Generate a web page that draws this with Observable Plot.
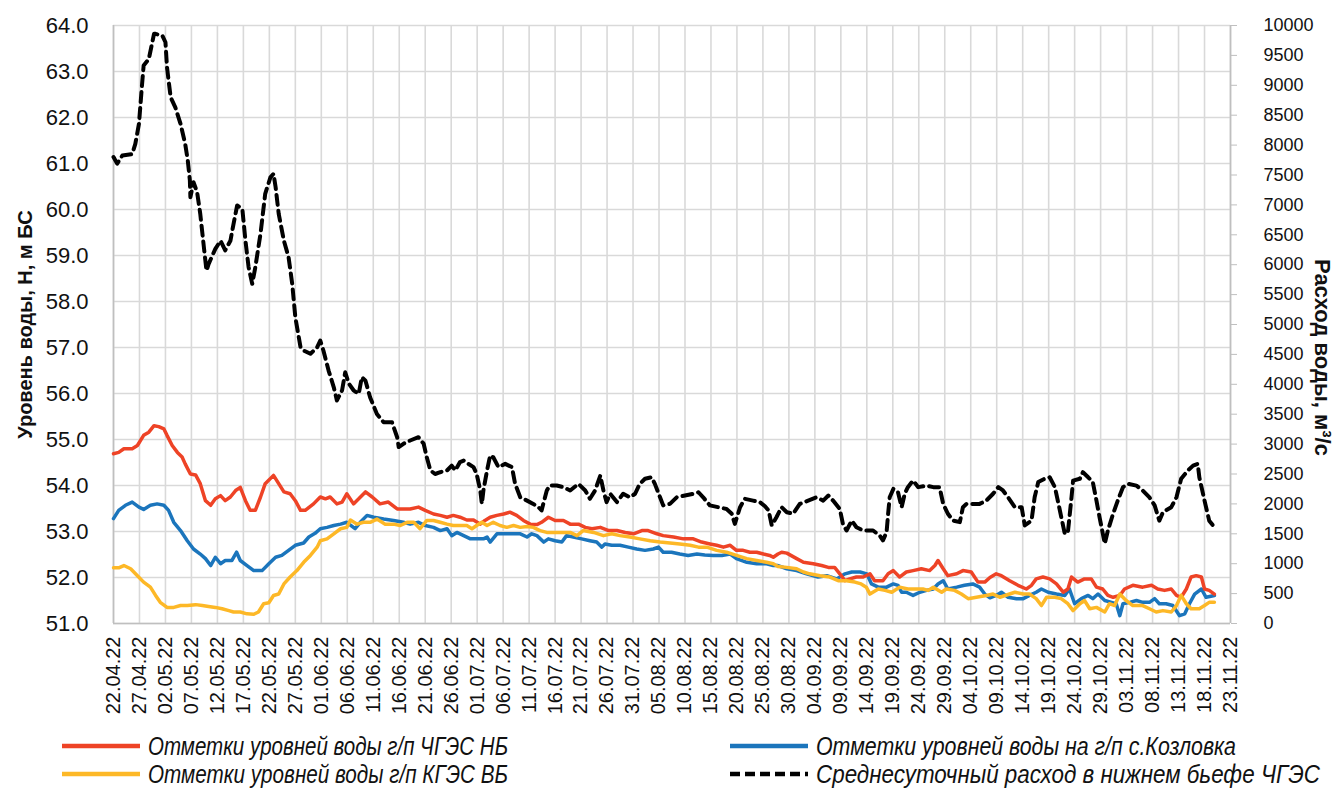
<!DOCTYPE html>
<html><head><meta charset="utf-8">
<script src="https://cdn.jsdelivr.net/npm/d3@7"></script>
<script src="https://cdn.jsdelivr.net/npm/@observablehq/plot@0.6"></script>
<style>
body{margin:0;background:#fff;font-family:"Liberation Sans",Arial,sans-serif;}
#chart svg{display:block;}
#legend{position:relative;width:1336px;height:68px;font-style:italic;font-size:26px;color:#111;}
.sw{position:absolute;}
.lab{position:absolute;white-space:nowrap;line-height:28px;transform-origin:left center;}
</style></head><body>
<div id="chart"></div>
<div id="legend"></div>
<script>
// ---- data (day offset from 22.04.22, value) ----
const dateLabels = ["22.04.22","27.04.22","02.05.22","07.05.22","12.05.22","17.05.22","22.05.22","27.05.22","01.06.22","06.06.22","11.06.22","16.06.22","21.06.22","26.06.22","01.07.22","06.07.22","11.07.22","16.07.22","21.07.22","26.07.22","31.07.22","05.08.22","10.08.22","15.08.22","20.08.22","25.08.22","30.08.22","04.09.22","09.09.22","14.09.22","19.09.22","24.09.22","29.09.22","04.10.22","09.10.22","14.10.22","19.10.22","24.10.22","29.10.22","03.11.22","08.11.22","13.11.22","18.11.22","23.11.22"];
const levelTicks = [51,52,53,54,55,56,57,58,59,60,61,62,63,64];
const flowTicks = [0,500,1000,1500,2000,2500,3000,3500,4000,4500,5000,5500,6000,6500,7000,7500,8000,8500,9000,9500,10000];
const seriesNames = ["Отметки уровней воды г/п ЧГЭС НБ","Отметки уровней воды г/п КГЭС ВБ","Отметки уровней воды на г/п с.Козловка","Среднесуточный расход в нижнем бьефе ЧГЭС"];

const levelNB = [[0,54.69],[1.0,54.72],[2.0,54.80],[3.6,54.80],[4.6,54.87],[5.8,55.09],[6.8,55.16],[7.8,55.30],[8.7,55.28],[9.7,55.23],[10.3,55.09],[11.3,54.87],[12.3,54.72],[13.2,54.62],[13.8,54.47],[14.8,54.25],[15.8,54.23],[16.7,54.04],[17.7,53.67],[18.7,53.57],[19.6,53.71],[20.6,53.78],[21.5,53.67],[22.5,53.75],[23.5,53.89],[24.4,53.96],[25.4,53.67],[26.3,53.46],[27.3,53.46],[28.3,53.75],[29.2,54.04],[30.8,54.22],[31.8,54.04],[32.8,53.86],[34.0,53.82],[35.0,53.67],[36.0,53.46],[36.9,53.46],[38.5,53.60],[39.8,53.75],[40.8,53.71],[41.7,53.75],[43.0,53.60],[44.0,53.64],[44.9,53.82],[46.2,53.60],[47.2,53.71],[48.5,53.86],[49.8,53.75],[51.3,53.60],[52.9,53.64],[54.6,53.49],[55.8,53.49],[57.1,53.49],[58.7,53.53],[60.0,53.46],[61.6,53.38],[62.9,53.35],[64.2,53.31],[65.4,53.35],[66.7,53.31],[68.0,53.25],[69.3,53.25],[70.6,53.16],[71.5,53.24],[72.5,53.31],[73.8,53.35],[75.1,53.38],[76.3,53.42],[77.6,53.35],[78.9,53.24],[80.2,53.16],[81.5,53.15],[82.4,53.20],[83.7,53.31],[85.0,53.24],[86.6,53.24],[87.9,53.16],[89.5,53.16],[90.8,53.09],[92.1,53.06],[93.7,53.09],[95.3,53.02],[96.9,53.02],[98.5,52.98],[100.1,52.95],[101.7,53.02],[102.9,53.02],[104.6,52.95],[105.8,52.91],[107.8,52.88],[109.7,52.84],[111.6,52.84],[113.2,52.77],[114.8,52.73],[116.1,52.70],[117.4,52.66],[118.7,52.70],[119.9,52.59],[121.2,52.59],[122.5,52.55],[123.8,52.55],[125.1,52.51],[126.3,52.48],[127.0,52.44],[127.9,52.51],[128.6,52.55],[129.6,52.53],[131.5,52.41],[132.8,52.33],[134.7,52.30],[136.3,52.26],[137.6,52.22],[138.8,52.22],[139.8,52.08],[140.8,51.93],[141.7,51.97],[143.0,52.01],[144.3,52.01],[145.6,52.08],[146.5,51.93],[148.1,51.93],[149.1,52.08],[150.1,52.15],[151.3,52.01],[152.6,52.12],[153.9,52.15],[155.5,52.19],[157.1,52.15],[158.1,52.26],[158.7,52.37],[159.7,52.19],[160.6,52.04],[162.3,52.08],[163.5,52.15],[165.1,52.12],[166.4,51.90],[167.7,51.90],[168.7,52.00],[169.9,52.08],[170.9,52.04],[172.5,51.93],[174.1,51.83],[175.7,51.75],[176.7,51.83],[177.6,51.97],[178.9,52.01],[180.2,51.97],[181.5,51.86],[182.8,51.68],[183.7,51.75],[184.4,52.01],[185.6,51.90],[186.9,51.97],[188.2,51.97],[189.2,51.79],[190.4,51.75],[191.4,51.61],[192.4,51.57],[193.7,51.61],[194.6,51.75],[196.2,51.83],[198.1,51.79],[199.8,51.83],[201.0,51.75],[202.3,51.72],[203.6,51.75],[204.6,51.61],[205.5,51.57],[206.5,51.75],[207.4,52.01],[208.4,52.04],[209.4,52.01],[210.0,51.75],[210.9,51.72],[211.9,51.64]];

const levelKozlovka = [[0,53.28],[1.0,53.46],[2.3,53.57],[3.6,53.64],[4.9,53.53],[5.8,53.48],[7.1,53.57],[8.4,53.60],[9.7,53.57],[10.6,53.46],[11.6,53.20],[12.9,53.02],[14.2,52.80],[15.4,52.62],[16.7,52.51],[17.7,52.41],[18.7,52.26],[19.6,52.44],[20.6,52.30],[21.5,52.37],[22.8,52.37],[23.7,52.55],[24.4,52.37],[25.7,52.26],[27.0,52.15],[28.6,52.15],[29.9,52.30],[31.2,52.44],[32.4,52.48],[33.7,52.59],[35.0,52.70],[36.6,52.75],[37.6,52.88],[38.8,52.96],[39.8,53.06],[41.1,53.09],[42.4,53.13],[43.7,53.16],[44.9,53.20],[46.5,53.06],[47.5,53.20],[48.8,53.35],[50.1,53.31],[52.0,53.27],[53.9,53.24],[55.8,53.20],[57.1,53.16],[58.7,53.20],[60.0,53.13],[61.6,53.09],[62.9,53.02],[64.2,53.06],[65.1,52.91],[66.1,52.98],[67.4,52.91],[68.7,52.84],[69.9,52.84],[71.2,52.84],[71.9,52.88],[72.5,52.77],[73.8,52.95],[75.1,52.95],[76.7,52.95],[78.3,52.95],[79.6,52.88],[80.5,52.95],[81.5,52.91],[82.8,52.77],[83.7,52.84],[85.0,52.80],[86.3,52.77],[87.2,52.91],[88.5,52.88],[90.1,52.84],[91.7,52.80],[93.0,52.77],[94.0,52.66],[94.6,52.73],[95.9,52.70],[97.5,52.70],[99.1,52.66],[100.7,52.62],[102.3,52.59],[103.9,52.62],[104.9,52.66],[105.8,52.55],[107.4,52.55],[109.0,52.51],[110.6,52.48],[112.3,52.51],[113.8,52.49],[115.4,52.48],[117.1,52.48],[118.7,52.51],[119.9,52.41],[121.9,52.33],[123.8,52.30],[125.7,52.30],[127.0,52.26],[127.9,52.26],[129.6,52.19],[131.5,52.15],[133.4,52.08],[135.6,52.01],[137.3,52.04],[139.2,51.97],[140.8,52.08],[142.1,52.12],[143.7,52.12],[145.0,52.08],[145.9,51.86],[147.2,51.79],[148.8,51.79],[150.1,51.86],[151.0,51.83],[151.7,51.68],[152.6,51.68],[153.9,51.61],[155.2,51.68],[156.5,51.72],[157.8,51.75],[158.7,51.86],[159.7,51.93],[160.6,51.75],[162.3,51.79],[163.8,51.83],[165.4,51.86],[166.7,51.79],[167.7,51.64],[168.7,51.56],[169.9,51.61],[170.9,51.68],[172.2,51.57],[173.8,51.54],[175.1,51.54],[176.3,51.61],[177.6,51.68],[178.6,51.75],[179.9,51.68],[181.5,51.64],[183.1,51.61],[184.0,51.75],[185.0,51.43],[186.3,51.54],[187.6,51.61],[188.5,51.54],[189.5,51.64],[190.8,51.50],[192.1,51.46],[193.0,51.43],[193.7,51.17],[194.3,51.43],[195.6,51.46],[196.9,51.50],[198.1,51.46],[199.4,51.46],[200.4,51.54],[201.3,51.43],[202.6,51.43],[203.9,51.39],[205.2,51.17],[206.2,51.21],[207.1,51.43],[208.1,51.64],[209.4,51.75],[210.3,51.57],[211.9,51.61]];

const levelVB = [[0,52.21],[1.0,52.21],[2.0,52.26],[3.3,52.19],[4.6,52.04],[5.8,51.90],[7.1,51.79],[8.1,51.61],[9.0,51.46],[10.3,51.35],[11.6,51.35],[12.9,51.39],[14.2,51.39],[15.8,51.41],[17.1,51.39],[18.3,51.37],[19.6,51.35],[20.9,51.32],[22.2,51.28],[23.1,51.25],[24.4,51.25],[25.7,51.21],[27.0,51.20],[27.9,51.25],[28.9,51.43],[29.9,51.45],[30.8,51.61],[31.8,51.64],[32.8,51.86],[34.0,52.01],[35.3,52.15],[36.6,52.33],[37.9,52.48],[39.2,52.66],[39.8,52.80],[41.1,52.84],[42.4,52.95],[43.7,53.06],[44.9,53.09],[45.6,53.25],[46.9,53.16],[48.1,53.20],[49.4,53.20],[50.7,53.27],[52.3,53.16],[53.9,53.16],[55.2,53.13],[56.5,53.20],[57.8,53.20],[59.0,53.06],[60.3,53.24],[61.6,53.24],[62.9,53.20],[64.2,53.16],[65.4,53.13],[66.7,53.13],[68.0,53.13],[69.0,53.06],[69.9,53.13],[70.9,53.20],[71.9,53.13],[73.1,53.20],[74.4,53.13],[75.7,53.09],[77.0,53.13],[78.3,53.09],[79.6,53.11],[80.8,53.09],[82.1,53.02],[83.4,52.98],[84.7,52.98],[86.6,52.98],[87.9,52.98],[89.2,52.91],[90.4,53.02],[92.4,52.98],[94.3,52.91],[95.9,52.95],[97.5,52.91],[99.4,52.88],[101.3,52.84],[103.3,52.80],[105.2,52.77],[107.1,52.75],[109.0,52.73],[111.0,52.70],[112.6,52.66],[114.2,52.66],[116.1,52.59],[118.0,52.55],[119.9,52.48],[121.9,52.41],[123.8,52.37],[125.7,52.33],[127.0,52.30],[127.9,52.24],[129.6,52.22],[131.5,52.19],[132.8,52.12],[134.0,52.08],[136.0,52.04],[137.9,52.01],[139.5,51.93],[141.1,51.93],[142.7,51.90],[143.9,51.86],[144.9,51.79],[145.6,51.64],[147.2,51.75],[148.5,51.72],[149.8,51.68],[151.3,51.79],[152.9,51.75],[154.6,51.75],[155.8,51.75],[156.8,51.72],[157.8,51.79],[159.4,51.68],[160.3,51.75],[161.9,51.72],[163.2,51.64],[164.5,51.54],[166.1,51.57],[168.0,51.61],[169.3,51.64],[170.6,51.57],[171.9,51.62],[173.5,51.68],[175.1,51.64],[176.3,51.64],[177.6,51.54],[178.6,51.39],[179.6,51.57],[181.2,51.57],[182.4,51.54],[183.7,51.43],[184.7,51.28],[186.0,51.43],[186.9,51.50],[187.9,51.32],[189.2,51.35],[190.8,51.25],[191.7,51.43],[192.7,51.39],[193.7,51.64],[194.9,51.50],[196.2,51.39],[198.1,51.39],[199.4,51.32],[200.7,51.25],[202.0,51.28],[203.6,51.25],[204.6,51.39],[205.5,51.61],[206.5,51.43],[207.4,51.32],[209.0,51.32],[210.0,51.39],[210.9,51.46],[211.9,51.46]];

const discharge = [[0,7800],[0.7,7690],[1.7,7825],[3.6,7850],[4.2,8020],[4.9,8355],[5.5,9020],[5.8,9330],[6.8,9440],[7.8,9860],[8.1,9860],[9.4,9830],[10.0,9720],[10.3,9300],[11.0,8800],[11.9,8630],[12.9,8355],[13.8,8020],[14.3,7740],[14.7,7410],[14.8,7130],[15.4,7380],[16.1,7210],[16.7,6850],[17.4,6290],[17.9,5900],[18.3,6010],[19.6,6265],[20.6,6400],[21.5,6240],[22.5,6400],[23.1,6680],[23.8,6990],[24.8,6930],[25.4,6400],[26.0,5960],[26.7,5680],[27.3,5960],[28.3,6520],[29.2,7185],[30.2,7460],[30.8,7520],[31.2,7300],[31.8,6850],[32.8,6400],[33.7,6125],[34.4,5680],[35.0,5120],[36.0,4620],[36.6,4565],[37.9,4510],[39.2,4620],[39.8,4730],[40.4,4565],[41.4,4230],[42.4,3950],[43.0,3730],[44.0,3900],[44.6,4200],[45.3,4010],[46.2,3900],[47.2,3840],[47.8,4120],[48.5,4060],[49.4,3780],[50.7,3505],[52.0,3365],[53.6,3365],[54.6,3115],[54.9,2950],[55.8,3005],[57.1,3060],[58.7,3115],[59.7,3005],[60.3,2780],[61.0,2560],[61.9,2500],[62.9,2530],[64.2,2560],[65.1,2640],[65.8,2560],[66.7,2700],[67.4,2725],[68.3,2670],[69.3,2615],[69.9,2500],[70.6,2225],[70.9,2000],[71.2,2225],[71.9,2560],[72.5,2810],[73.1,2780],[74.1,2615],[75.4,2670],[76.7,2615],[77.3,2335],[78.3,2110],[79.6,2055],[80.8,2000],[81.8,1945],[82.4,1890],[83.4,2225],[84.0,2310],[85.3,2307],[86.6,2280],[87.9,2225],[89.5,2335],[90.8,2225],[91.7,2085],[92.7,2225],[93.7,2475],[94.3,2225],[94.9,2030],[95.6,2170],[96.9,2030],[98.1,2170],[99.4,2110],[100.4,2170],[101.3,2335],[102.3,2420],[103.6,2445],[104.2,2335],[105.2,2110],[105.8,1975],[107.1,2000],[108.4,2110],[110.0,2140],[111.6,2170],[112.6,2195],[113.5,2110],[114.8,1975],[116.4,1945],[118.0,1915],[119.0,1835],[119.6,1665],[120.6,1945],[121.5,2085],[123.1,2055],[124.4,2030],[125.4,1960],[126.1,1890],[126.7,1640],[127.6,1777],[128.6,1945],[129.6,1860],[130.8,1835],[132.1,2000],[133.7,2055],[135.3,2110],[136.6,2055],[137.6,2140],[138.5,2055],[139.8,1915],[140.4,1665],[141.1,1555],[142.1,1720],[143.0,1610],[144.3,1555],[146.2,1555],[147.5,1470],[148.1,1390],[148.8,1525],[149.1,1835],[149.4,2110],[150.1,2250],[151.0,2195],[151.7,1945],[152.3,2170],[152.9,2280],[153.9,2390],[154.9,2280],[156.5,2305],[157.8,2280],[159.0,2280],[159.7,2000],[160.6,1835],[161.6,1720],[162.9,1695],[163.5,1945],[164.2,2000],[165.4,2000],[166.7,2000],[168.0,2055],[169.3,2170],[170.3,2280],[171.2,2225],[172.2,2110],[173.5,1945],[174.8,1945],[175.4,1640],[176.7,1720],[177.3,2110],[178.0,2365],[179.2,2420],[180.2,2445],[181.2,2280],[182.1,1915],[183.1,1500],[183.7,1525],[184.4,2110],[184.7,2390],[186.0,2420],[186.6,2530],[187.6,2445],[188.5,2365],[189.2,2055],[189.8,1775],[190.8,1335],[191.4,1555],[192.4,1835],[193.3,2055],[194.3,2280],[195.3,2335],[196.9,2305],[198.1,2225],[199.4,2110],[200.4,1975],[201.3,1720],[202.0,1860],[203.6,1945],[204.6,2110],[205.5,2420],[206.8,2560],[207.8,2640],[208.7,2670],[209.0,2445],[210.0,2055],[210.9,1720],[211.9,1610]];

// ---- helpers ----
const t0 = Date.UTC(2022, 3, 22);
const toDate = d => new Date(t0 + d * 864e5);
const parseLbl = s => { const [dd, mm, yy] = s.split(".").map(Number); return new Date(Date.UTC(2000 + yy, mm - 1, dd)); };
const xTicks = dateLabels.map(parseLbl);
const hMin = 51, hMax = 64, qMax = 10000;
const qToH = q => hMin + q * (hMax - hMin) / qMax;
const fmtDate = d3.utcFormat("%d.%m.%y");

const colors = {nb: "#EE4326", vb: "#FDB827", kz: "#1B75BC", q: "#000000"};
const grid = "#d9d9d9", axisCol = "#bfbfbf";

const chart = Plot.plot({
  width: 1336, height: 722,
  marginLeft: 113, marginRight: 106, marginTop: 25, marginBottom: 99,
  style: {fontFamily: "Liberation Sans, Arial, sans-serif", color: "#111", background: "#fff", overflow: "visible"},
  x: {type: "utc", domain: [xTicks[0], xTicks[xTicks.length - 1]]},
  y: {domain: [hMin, hMax]},
  marks: [
    Plot.gridX(xTicks, {stroke: grid, strokeOpacity: 1, strokeWidth: 1.6}),
    Plot.gridY(levelTicks, {stroke: grid, strokeOpacity: 1, strokeWidth: 1.6}),
    Plot.ruleX([xTicks[0], xTicks[xTicks.length - 1]], {stroke: axisCol, strokeWidth: 1.6}),
    Plot.ruleY([hMin], {stroke: axisCol, strokeWidth: 1.6}),
    Plot.axisX(xTicks, {tickFormat: fmtDate, tickRotate: -90, tickSize: 0, tickPadding: 13, fontSize: 20, label: null, fill: "#111"}),
    Plot.axisY(levelTicks, {tickFormat: d => d.toFixed(1), tickSize: 0, tickPadding: 25, fontSize: 22, label: null, fill: "#111"}),
    Plot.axisY(flowTicks.map(qToH), {anchor: "right", tickFormat: h => String(Math.round((h - hMin) / (hMax - hMin) * qMax)), tickSize: 6, tickPadding: 27, fontSize: 18, label: null, stroke: axisCol, fill: "#111"}),
    Plot.line(levelKozlovka, {x: d => toDate(d[0]), y: d => d[1], stroke: colors.kz, strokeWidth: 3.5}),
    Plot.line(levelNB, {x: d => toDate(d[0]), y: d => d[1], stroke: colors.nb, strokeWidth: 3.5}),
    Plot.line(levelVB, {x: d => toDate(d[0]), y: d => d[1], stroke: colors.vb, strokeWidth: 3.5}),
    Plot.line(discharge, {x: d => toDate(d[0]), y: d => qToH(d[1]), stroke: colors.q, strokeWidth: 4, strokeDasharray: "10,6"}),
    Plot.text(["Уровень воды, Н, м БС"], {frameAnchor: "left", dx: -88, rotate: -90, textAnchor: "middle", fontSize: 20, fontWeight: "bold", fill: "#111"}),
    Plot.text(["Расход воды, м³/с"], {frameAnchor: "right", dx: 92, dy: 33, rotate: 90, textAnchor: "middle", fontSize: 22, fontWeight: "bold", fill: "#111"})
  ]
});
document.getElementById("chart").appendChild(chart);

// ---- legend ----
const legend = document.getElementById("legend");
const items = [
  {name: seriesNames[0], color: colors.nb, dash: null, x: 62, row: 0, target: 360},
  {name: seriesNames[2], color: colors.kz, dash: null, x: 730, row: 0, target: 420},
  {name: seriesNames[1], color: colors.vb, dash: null, x: 62, row: 1, target: 360},
  {name: seriesNames[3], color: colors.q, dash: "10,5", x: 730, row: 1, target: 504}
];
items.forEach(it => {
  const cy = 24 + it.row * 28;
  const sw = document.createElementNS("http://www.w3.org/2000/svg", "svg");
  sw.setAttribute("class", "sw"); sw.setAttribute("width", 78); sw.setAttribute("height", 8);
  sw.style.left = it.x + "px"; sw.style.top = (cy - 4) + "px";
  const ln = document.createElementNS("http://www.w3.org/2000/svg", "line");
  ln.setAttribute("x1", 0); ln.setAttribute("x2", 78); ln.setAttribute("y1", 4); ln.setAttribute("y2", 4);
  ln.setAttribute("stroke", it.color); ln.setAttribute("stroke-width", 4.5);
  if (it.dash) ln.setAttribute("stroke-dasharray", it.dash);
  sw.appendChild(ln); legend.appendChild(sw);
  const lab = document.createElement("span");
  lab.className = "lab"; lab.textContent = it.name;
  lab.style.left = (it.x + 86) + "px"; lab.style.top = (cy - 14) + "px";
  legend.appendChild(lab);
  const w = lab.getBoundingClientRect().width;
  if (w > 0) lab.style.transform = `scaleX(${it.target / w})`;
});
</script>
</body></html>
